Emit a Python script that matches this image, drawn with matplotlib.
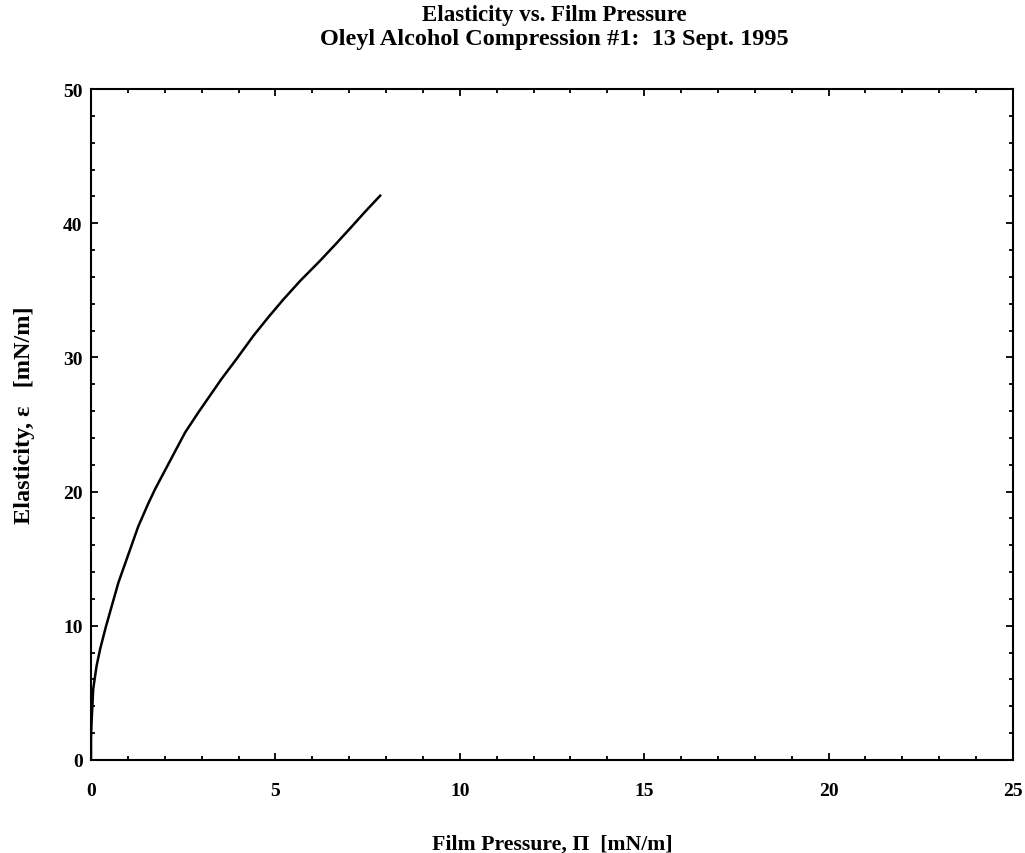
import matplotlib
matplotlib.use("Agg")
import matplotlib.pyplot as plt
from matplotlib.ticker import MultipleLocator

# curve
pressure = [0.0, 0.0, 0.01, 0.02, 0.06, 0.15, 0.25, 0.40, 0.74, 1.01, 1.28,
            1.55, 1.74, 2.28, 2.55, 2.91, 3.54, 3.95, 4.40, 4.81, 5.21, 5.67,
            6.21, 6.62, 7.02, 7.43, 7.84]
elasticity = [0.0, 1.5, 2.5, 3.1, 5.3, 7.0, 8.3, 9.9, 13.2, 15.3, 17.4,
              19.1, 20.2, 23.0, 24.4, 25.9, 28.4, 29.9, 31.6, 33.0, 34.3, 35.7,
              37.2, 38.4, 39.6, 40.85, 42.05]

plt.rcParams["font.family"] = ["Liberation Serif", "DejaVu Serif"]
plt.rcParams["font.weight"] = "bold"

fig = plt.figure(figsize=(10.25, 8.54), dpi=100)
ax = fig.add_axes([0.0888, 0.1089, 0.8995, 0.7857])

ax.plot(pressure, elasticity, color="black", lw=1.8)

ax.set_xlim(0, 25)
ax.set_ylim(0, 50)
ax.xaxis.set_major_locator(MultipleLocator(5))
ax.xaxis.set_minor_locator(MultipleLocator(1))
ax.yaxis.set_major_locator(MultipleLocator(10))
ax.yaxis.set_minor_locator(MultipleLocator(2))
ax.tick_params(which="both", direction="in", top=True, right=True, width=1.3)
ax.tick_params(which="major", length=5)
ax.tick_params(which="minor", length=3)
ax.tick_params(axis="x", which="major", pad=16, labelsize=14)
ax.tick_params(axis="y", which="major", pad=6, labelsize=14)
for lbl in ax.get_xticklabels() + ax.get_yticklabels():
    lbl.set_fontweight("bold")
for s in ax.spines.values():
    s.set_linewidth(1.5)

fig.text(0.539, 1 - 845 / 854, "Film Pressure, \u03a0  [mN/m]", fontsize=15.7,
         fontweight="bold", ha="center", va="center")
fig.text(25 / 1025, 1 - 415 / 854, "Elasticity, \u03b5   [mN/m]", fontsize=17.5,
         fontweight="bold", ha="center", va="center", rotation=90)
fig.text(0.541, 1 - 15 / 854, "Elasticity vs. Film Pressure", fontsize=16.5,
         fontweight="bold", ha="center", va="center")
fig.text(0.541, 1 - 40 / 854, "Oleyl Alcohol Compression #1:  13 Sept. 1995",
         fontsize=17.5, fontweight="bold", ha="center", va="center")

plt.savefig("out.png", dpi=100)
